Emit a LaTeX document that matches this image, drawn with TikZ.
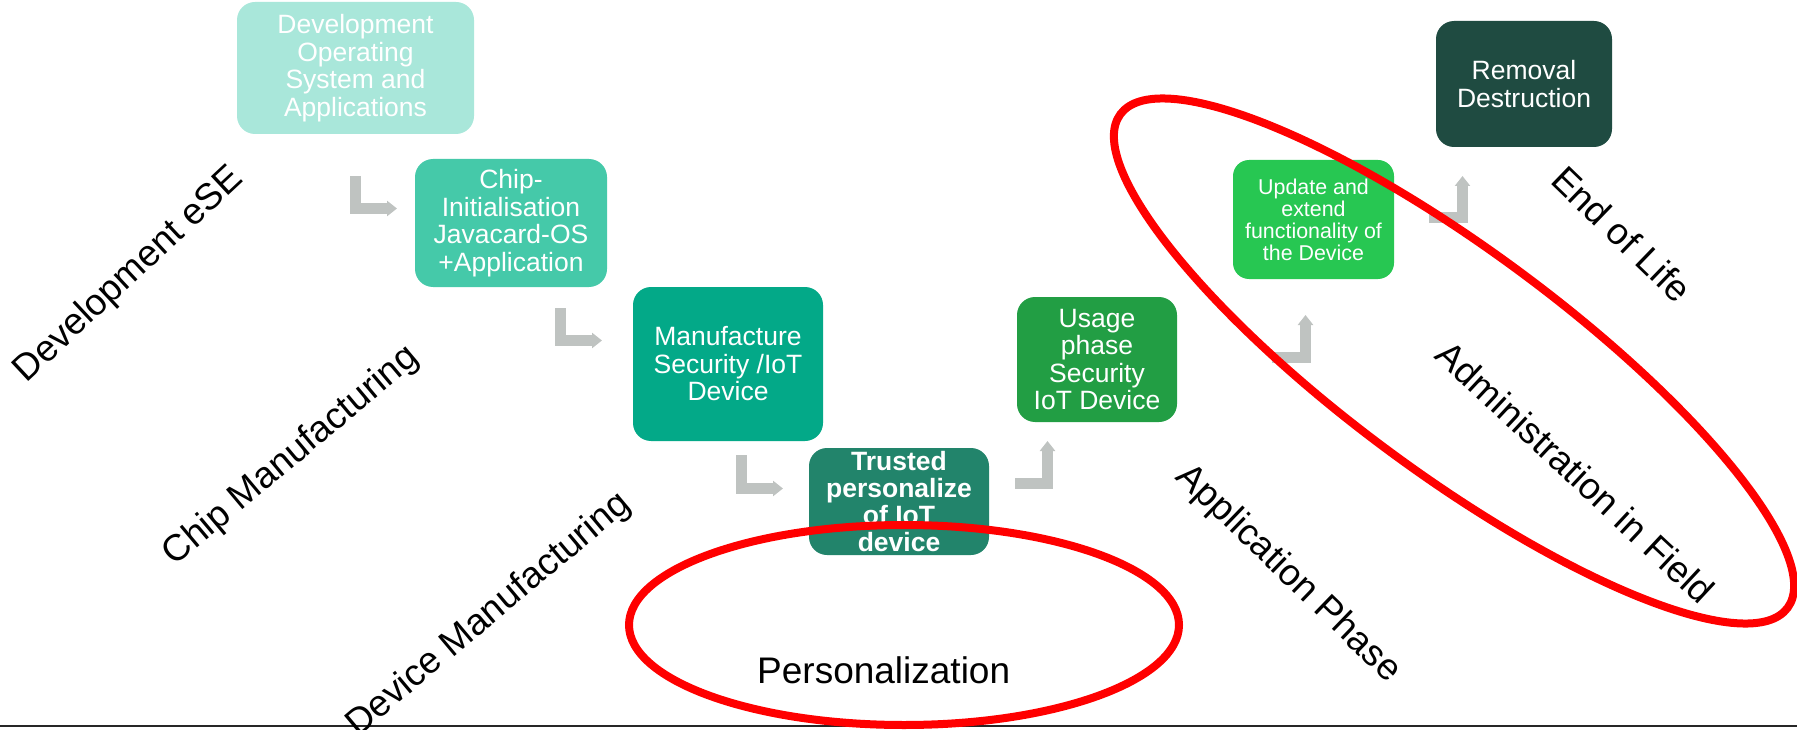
\documentclass[tikz,border=0pt]{standalone}
\usepackage{fontspec}
\setmainfont{Liberation Sans}
\usetikzlibrary{arrows.meta}
\definecolor{cA}{HTML}{A9E7DA}
\definecolor{cB}{HTML}{45C9A9}
\definecolor{cC}{HTML}{03A988}
\definecolor{cD}{HTML}{22846B}
\definecolor{cE}{HTML}{229E44}
\definecolor{cF}{HTML}{27C752}
\definecolor{cG}{HTML}{1F4B41}
\definecolor{agrey}{HTML}{BFC3C1}
\begin{document}
\begin{tikzpicture}[x=1pt,y=-1pt,
  box/.style={rectangle, rounded corners=18pt, inner sep=0pt, text=white, align=center,
    font=\fontsize{26.5}{27.5}\selectfont},
  lbl/.style={font=\fontsize{37}{40}\selectfont, inner sep=0pt},
  flow/.style={line width=11pt, draw=agrey, -{Triangle[width=15pt 0 0,length=10pt 0 0]}},
  ring/.style={draw=red, line width=8pt}]
\useasboundingbox (0,0) rectangle (1797,730);
\draw[line width=2pt, black!85] (0,726) -- (1797,726);

% boxes
\node[box, fill=cA, minimum width=237pt, minimum height=132pt] (b1) at (355.5,68)
  {Development\\Operating\\System and\\Applications};
\node[box, fill=cB, minimum width=192pt, minimum height=128pt] (b2) at (511,223)
  {Chip-\\Initialisation\\Javacard-OS\\+Application};
\node[box, fill=cC, minimum width=190pt, minimum height=154pt] (b3) at (728,364)
  {Manufacture\\Security /IoT\\Device};
\node[box, fill=cD, minimum width=180pt, minimum height=107pt,
  font=\bfseries\fontsize{26.5}{26.7}\selectfont] (b4) at (899,501.5)
  {Trusted\\personalize\\of IoT\\device};
\node[box, fill=cE, minimum width=160pt, minimum height=125pt] (b5) at (1097,359.5)
  {Usage\\phase\\Security\\IoT Device};
\node[box, fill=cF, minimum width=161pt, minimum height=119pt, rounded corners=16pt,
  font=\fontsize{21.4}{22}\selectfont] (b6) at (1313.5,219.5)
  {Update and\\extend\\functionality of\\the Device};
\node[box, fill=cG, minimum width=176pt, minimum height=126pt] (b7) at (1524,84)
  {Removal\\Destruction};

% L-shaped arrows
\coordinate (a1s) at (355.5,176); \coordinate (a1e) at (397,208.5);
\coordinate (a2s) at (560.5,308); \coordinate (a2e) at (602,340.5);
\coordinate (a3s) at (741.5,455); \coordinate (a3e) at (783,488.5);
\coordinate (a4s) at (1015,483); \coordinate (a4e) at (1047.5,441);
\coordinate (a5s) at (1272,357); \coordinate (a5e) at (1305.5,315);
\coordinate (a6s) at (1429,218); \coordinate (a6e) at (1462.5,176);
\draw[flow] (a1s) |- (a1e);
\draw[flow] (a2s) |- (a2e);
\draw[flow] (a3s) |- (a3e);
\draw[flow] (a4s) -| (a4e);
\draw[flow] (a5s) -| (a5e);
\draw[flow] (a6s) -| (a6e);

% phase labels
\node[lbl, rotate=43] (l1) at (129,275) {Development eSE};
\node[lbl, rotate=40] (l2) at (291.5,456.5) {Chip Manufacturing};
\node[lbl, rotate=40] (l3) at (489,615) {Device Manufacturing};
\node[lbl, rotate=-44] (l4) at (1288,574) {Application Phase};
\node[lbl, rotate=-43] (l5) at (1576,472) {Administration in Field};
\node[lbl, rotate=-44] (l6) at (1622,234) {End of Life};
\node[lbl, anchor=base west] (l7) at (757,683) {Personalization};

% red ellipses
\draw[ring] (904,625) ellipse [x radius=275, y radius=100];
\draw[ring, rotate around={-36.5:(1454,361)}] (1454,361) ellipse [x radius=415, y radius=111];
\end{tikzpicture}
\end{document}
